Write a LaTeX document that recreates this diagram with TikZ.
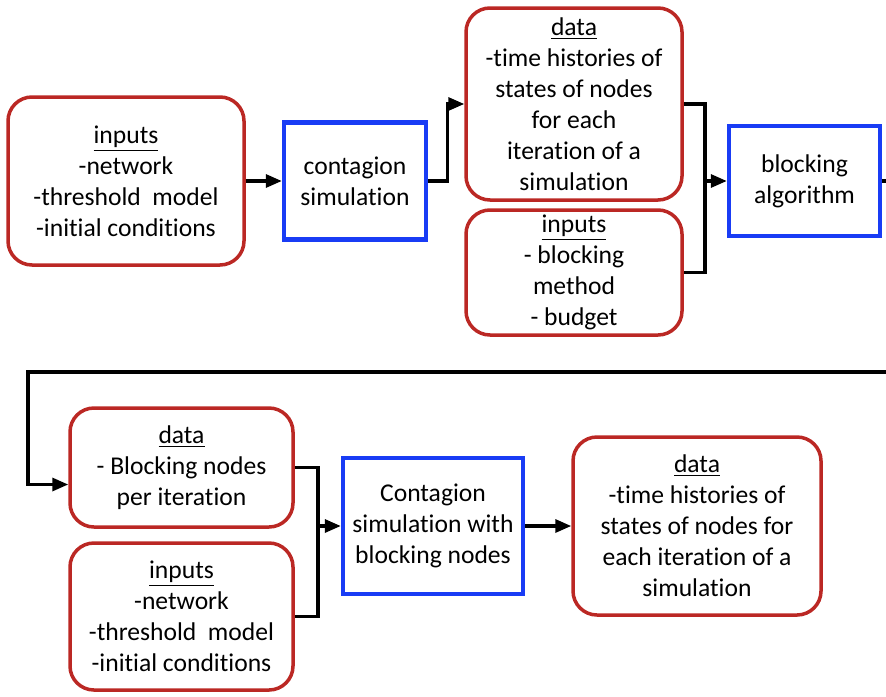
\documentclass[tikz,border=0pt]{standalone}
\usepackage{fontspec}
\setmainfont{Carlito}[Ligatures=NoCommon]
\usepackage{tikz}
\usetikzlibrary{shapes,arrows.meta}
\definecolor{boxred}{RGB}{187,40,36}
\definecolor{boxblue}{RGB}{25,60,245}
\tikzstyle{redblock} = [rectangle, draw = boxred, line width = 1.75pt, rounded corners = 12pt, align = center, inner sep = 0pt]
\tikzstyle{blueblock} = [rectangle, draw = boxblue, line width = 2.2pt, align = center, inner sep = 0pt]
\tikzstyle{plain} = [draw, line width = 1.6pt]
\tikzstyle{line} = [draw, line width = 1.6pt, -{Triangle[length=8pt, width=6.5pt]}]

\begin{document}
\begin{tikzpicture}[x = 0.5pt, y = -0.5pt]
\tikzstyle{every node}=[font=\fontsize{12.8}{15.5}\selectfont];
\useasboundingbox (0,0) rectangle (886,696);
\clip (0,0) rectangle (886,696);
% top row
\node [redblock, minimum width = 118pt, minimum height = 84pt] (inputs) at (126,181) {\underline{inputs}\\-network\\-threshold\ \ model\\-initial conditions};
\node [blueblock, right of = inputs, node distance = 114.5pt, minimum width = 71pt, minimum height = 58.5pt] (contagion) {contagion\\simulation};
\node [redblock, minimum width = 108pt, minimum height = 96pt] (histories) at (574,104) {\underline{data}\\-time histories of\\states of nodes\\for each\\iteration of a\\simulation};
\node [redblock, below of = histories, node distance = 84.25pt, minimum width = 108pt, minimum height = 62.5pt] (method) {\underline{inputs}\\- blocking\\method\\- budget};
\node [blueblock, right of = contagion, node distance = 224.75pt, minimum width = 75.5pt, minimum height = 55pt] (blocking) {blocking\\algorithm};
% bottom row
\node [redblock, minimum width = 111.5pt, minimum height = 59.5pt] (blocknodes) at (181.5,467.5) {\underline{data}\\- Blocking nodes\\per iteration};
\node [redblock, below of = blocknodes, node distance = 74.5pt, minimum width = 111.5pt, minimum height = 73.5pt] (inputsagain) {\underline{inputs}\\-network\\-threshold\ \ model\\-initial conditions};
\node [blueblock, minimum width = 90pt, minimum height = 68pt] (blocksim) at (433,526) {Contagion\\simulation with\\blocking nodes};
\node [redblock, right of = blocksim, node distance = 132pt, minimum width = 124pt, minimum height = 89pt] (result) {\underline{data}\\-time histories of\\states of nodes for\\each iteration of a\\simulation};
% connectors
\coordinate (joinA) at (705,181);
\coordinate (joinB) at (318,526);
\coordinate (wrapR) at (905,372);
\coordinate (wrapL) at (28,372);
\draw [line] (inputs) -- (contagion);
\draw [line] (contagion.east) -- ++(19,0) |- (histories.west);
\draw [plain] (histories.east) -| (joinA) |- (method.east);
\draw [line] (joinA) -- (blocking.west);
\draw [line] (blocking.east) -| (wrapR) -- (wrapL) |- ([yshift=-8.5pt]blocknodes.west);
\draw [plain] (blocknodes.east) -| (joinB) |- (inputsagain.east);
\draw [line] (joinB) -- (blocksim.west);
\draw [line] (blocksim) -- (result);
\end{tikzpicture}
\end{document}
